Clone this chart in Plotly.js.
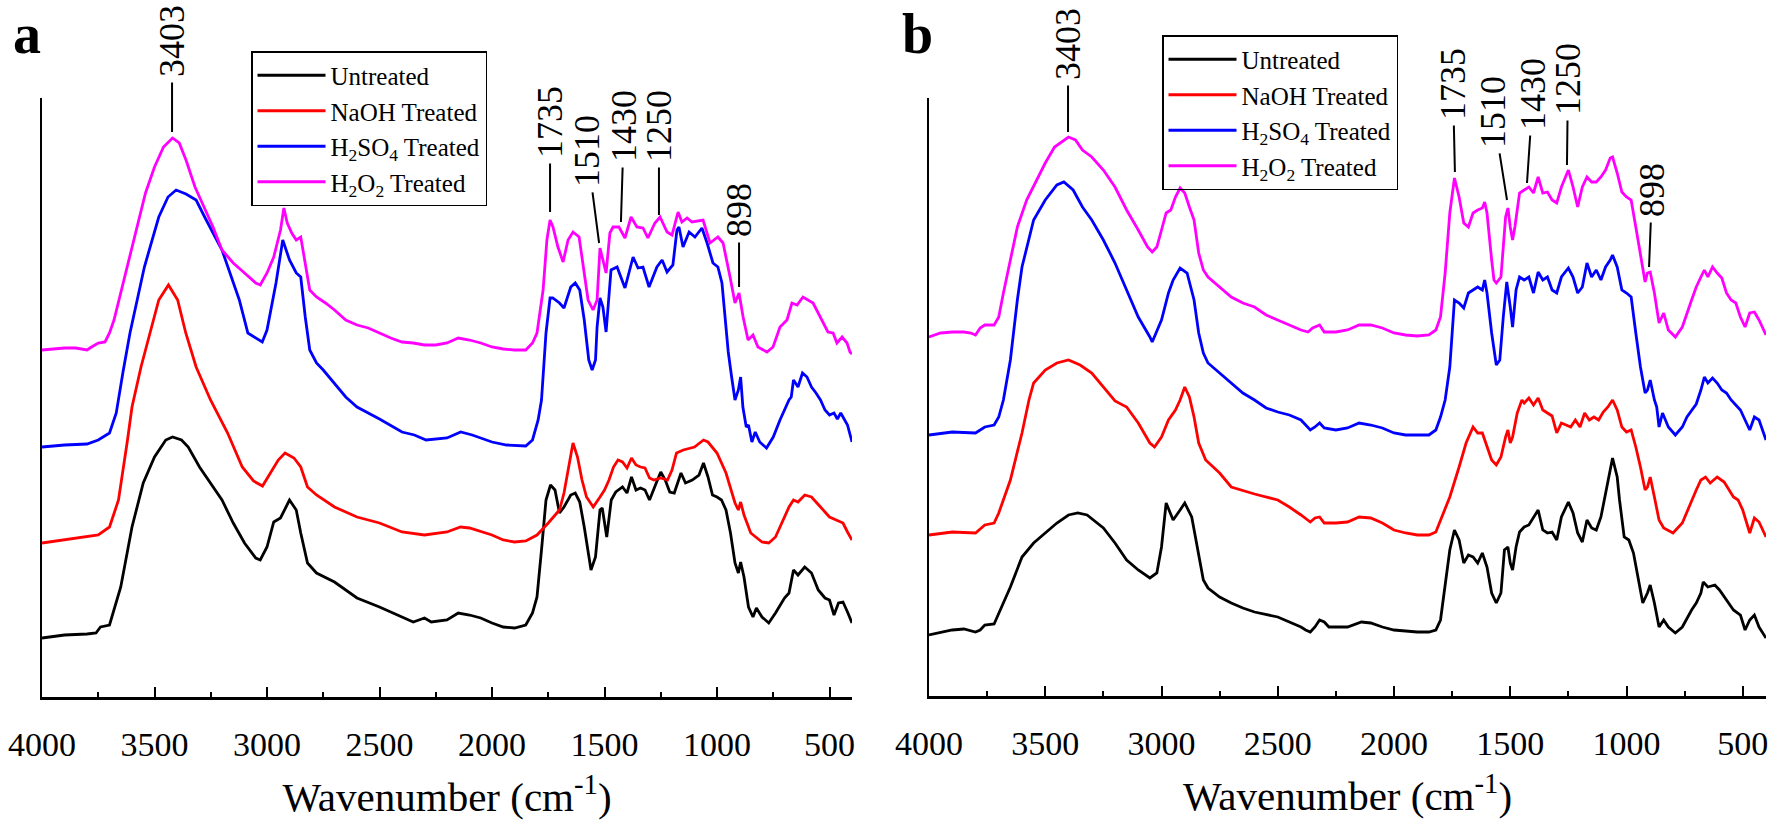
<!DOCTYPE html>
<html>
<head>
<meta charset="utf-8">
<script src="https://cdn.plot.ly/plotly-3.0.1.min.js"></script>
<style>
html,body{margin:0;padding:0;background:#ffffff;}
#chart{width:1776px;height:820px;}
</style>
</head>
<body>
<div id="chart"></div>
<script>
// ---------- DATA (wavenumber cm^-1, transmittance offset in arbitrary units) ----------
const seriesNames = ['Untreated', 'NaOH Treated', 'H<sub>2</sub>SO<sub>4</sub> Treated', 'H<sub>2</sub>O<sub>2</sub> Treated'];
const peakLabels = ['3403', '1735', '1510', '1430', '1250', '898'];

// Panel a
const a_untreated = [[4000,59],[3900,62],[3800,63],[3760,64],[3740,70],[3700,72],[3650,110],[3600,170],[3550,214],[3500,240],[3450,257],[3420,260],[3380,257],[3350,250],[3300,230],[3250,214],[3200,197],[3150,174],[3100,154],[3050,139],[3030,137],[3000,150],[2970,175],[2940,179],[2900,197],[2870,187],[2850,164],[2820,134],[2780,124],[2700,115],[2600,99],[2500,90],[2400,80],[2350,75],[2300,79],[2270,75],[2200,77],[2150,84],[2100,82],[2050,79],[2000,74],[1950,70],[1900,69],[1850,72],[1820,84],[1800,100],[1780,147],[1760,197],[1740,212],[1720,207],[1700,184],[1680,190],[1650,202],[1630,204],[1610,195],[1590,170],[1560,127],[1540,140],[1520,187],[1510,189],[1490,160],[1470,197],[1450,205],[1420,210],[1400,204],[1380,220],[1360,207],[1340,209],[1320,207],[1300,197],[1270,214],[1250,225],[1230,217],[1210,205],[1190,204],[1160,224],[1140,214],[1110,217],[1080,222],[1060,234],[1040,220],[1020,202],[1000,200],[980,197],[960,187],[940,164],[920,134],[905,124],[895,135],[880,120],[860,90],[840,80],[825,89],[800,80],[770,74],[740,84],[700,99],[680,104],[660,127],[640,122],[610,130],[580,124],[550,107],[520,99],[500,97],[480,82],[460,94],[440,95],[420,85],[400,74]];
const a_naoh = [[4000,154],[3900,157],[3800,160],[3750,162],[3700,170],[3660,197],[3620,257],[3600,290],[3560,330],[3520,364],[3481,397],[3438,412],[3397,397],[3361,364],[3315,330],[3251,297],[3175,264],[3110,230],[3060,216],[3020,211],[2990,222],[2950,237],[2920,244],[2880,239],[2850,230],[2820,210],[2780,202],[2700,190],[2600,180],[2500,174],[2400,165],[2300,162],[2200,165],[2140,170],[2100,169],[2000,162],[1950,157],[1900,155],[1850,156],[1800,162],[1750,174],[1700,187],[1680,204],[1660,230],[1640,254],[1620,240],[1600,217],[1580,200],[1550,190],[1520,200],[1500,207],[1480,217],[1460,230],[1440,237],[1420,235],[1400,229],[1380,239],[1360,232],[1340,230],[1320,229],[1300,219],[1280,217],[1250,219],[1220,217],[1200,227],[1180,244],[1150,247],[1100,250],[1060,257],[1040,255],[1000,244],[960,224],[940,210],[920,194],[905,187],[895,195],[880,182],[850,164],[800,155],[770,154],[740,160],[700,180],[680,190],[660,197],[640,195],[610,202],[580,200],[540,190],[500,180],[470,177],[440,174],[420,165],[400,157]];
const a_h2so4 = [[4000,250],[3900,252],[3800,253],[3750,257],[3700,264],[3670,284],[3640,325],[3609,364],[3545,430],[3481,480],[3440,500],[3404,507],[3360,503],[3315,497],[3277,480],[3200,447],[3123,397],[3085,364],[3021,355],[3000,367],[2960,414],[2930,457],[2900,437],[2870,424],[2850,420],[2830,380],[2810,347],[2780,334],[2750,327],[2700,314],[2650,300],[2600,290],[2550,284],[2500,278],[2400,265],[2345,262],[2293,257],[2200,259],[2139,265],[2088,262],[2000,255],[1935,252],[1850,251],[1820,257],[1795,277],[1780,297],[1760,364],[1742,399],[1730,399],[1700,394],[1680,389],[1650,410],[1630,414],[1610,407],[1590,377],[1570,337],[1555,327],[1540,337],[1533,370],[1520,399],[1507,390],[1493,365],[1471,427],[1444,430],[1409,409],[1373,440],[1351,429],[1329,430],[1302,410],[1267,430],[1244,437],[1222,425],[1196,432],[1178,467],[1169,470],[1151,450],[1124,465],[1098,460],[1067,469],[1044,454],[1018,434],[996,430],[978,414],[964,380],[950,345],[935,320],[920,297],[905,307],[895,320],[885,290],[870,270],[860,272],[845,255],[830,265],[810,255],[780,249],[750,260],[720,277],[700,287],[680,297],[670,300],[660,317],[640,310],[620,324],[600,320],[580,310],[560,304],[540,297],[520,287],[500,282],[480,284],[465,278],[450,284],[420,272],[400,255]];
const a_h2o2 = [[4000,347],[3900,349],[3850,349],[3800,347],[3780,350],[3750,354],[3720,355],[3700,364],[3680,377],[3650,404],[3620,434],[3580,470],[3540,504],[3500,530],[3460,550],[3420,559],[3390,554],[3360,537],[3320,510],[3280,490],[3240,470],[3200,447],[3150,434],[3100,424],[3050,414],[3030,412],[3000,424],[2970,440],[2940,467],[2925,489],[2910,474],[2890,464],[2870,457],[2850,460],[2830,434],[2810,407],[2780,400],[2740,394],[2700,387],[2650,377],[2600,372],[2550,369],[2500,364],[2450,359],[2400,355],[2350,354],[2300,352],[2250,352],[2200,354],[2150,359],[2100,357],[2050,354],[2000,350],[1950,348],[1900,347],[1850,347],[1820,354],[1800,364],[1773,407],[1756,457],[1742,477],[1729,470],[1707,450],[1684,435],[1662,457],[1640,465],[1613,460],[1596,434],[1573,397],[1551,387],[1533,397],[1520,449],[1507,437],[1493,424],[1476,464],[1462,470],[1436,470],[1409,459],[1382,480],[1356,470],[1329,469],[1307,459],[1276,474],[1253,480],[1222,465],[1200,462],[1173,485],[1156,475],[1133,479],[1111,475],[1062,477],[1044,464],[1031,454],[996,460],[973,454],[942,420],[920,394],[902,404],[884,380],[862,357],[840,362],[818,350],[778,345],[751,350],[720,370],[689,377],[667,394],[644,392],[618,400],[573,394],[542,380],[507,365],[484,364],[467,354],[444,360],[422,354],[409,345],[400,343]];

// Panel b
const b_untreated = [[4000,61],[3900,66],[3850,67],[3800,64],[3780,66],[3760,71],[3720,72],[3700,83],[3650,109],[3600,139],[3550,153],[3500,163],[3450,173],[3400,181],[3360,183],[3320,181],[3280,174],[3250,168],[3200,153],[3150,136],[3100,126],[3050,118],[3020,123],[3000,149],[2980,193],[2950,176],[2920,186],[2900,193],[2870,179],[2850,153],[2820,116],[2800,108],[2750,99],[2700,93],[2650,88],[2600,84],[2500,79],[2450,74],[2400,69],[2380,66],[2360,64],[2340,69],[2320,76],[2300,74],[2280,69],[2200,69],[2140,74],[2100,73],[2050,69],[2000,66],[1900,64],[1850,64],[1820,66],[1800,76],[1780,109],[1760,146],[1740,166],[1720,156],[1700,133],[1680,141],[1660,139],[1640,133],[1620,143],[1600,129],[1580,103],[1560,93],[1540,103],[1525,146],[1510,149],[1500,133],[1490,126],[1475,149],[1460,164],[1440,169],[1420,171],[1400,179],[1380,186],[1360,166],[1340,163],[1320,164],[1300,156],[1280,179],[1250,194],[1230,183],[1210,163],[1190,154],[1170,176],[1150,168],[1130,166],[1110,179],[1090,203],[1070,229],[1060,238],[1040,219],[1030,196],[1010,159],[990,156],[970,143],[950,116],[930,93],[910,103],[898,111],[880,93],[860,69],[840,76],[820,69],[790,63],[760,69],[720,86],[700,93],[680,103],[670,114],[650,109],[620,111],[600,106],[570,96],[540,86],[510,81],[490,66],[470,76],[450,81],[430,69],[400,58]];
const b_naoh = [[4000,161],[3900,164],[3800,163],[3760,171],[3720,173],[3700,183],[3650,216],[3600,263],[3570,296],[3550,313],[3500,326],[3450,333],[3400,336],[3350,331],[3300,323],[3250,309],[3200,295],[3150,289],[3100,273],[3050,253],[3030,249],[3000,259],[2970,276],[2940,286],[2920,296],[2900,309],[2880,299],[2860,279],[2840,253],[2810,236],[2780,229],[2750,223],[2700,209],[2600,202],[2500,196],[2450,189],[2400,181],[2360,174],[2340,178],[2320,179],[2300,173],[2250,173],[2200,174],[2150,179],[2100,178],[2050,173],[2000,166],[1950,163],[1900,161],[1850,161],[1820,164],[1800,176],[1760,199],[1720,229],[1690,253],[1660,269],[1640,263],[1620,263],[1600,249],[1580,236],[1560,231],[1540,239],[1520,259],[1510,266],[1500,253],[1490,259],[1470,283],[1450,296],[1440,293],[1420,298],[1400,291],[1380,298],[1360,286],[1340,283],[1320,280],[1300,263],[1280,273],[1260,271],[1240,269],[1220,276],[1200,269],[1180,283],[1160,276],[1140,279],[1120,276],[1100,284],[1080,289],[1060,296],[1040,286],[1020,269],[1000,264],[980,266],[960,249],[940,229],[920,206],[910,209],[898,219],[880,199],[860,176],[840,168],[800,163],[760,173],[720,196],[700,206],[680,216],[660,219],[640,213],[610,219],[580,214],[540,199],[520,196],[500,186],[470,163],[450,178],[430,174],[400,159]];
const b_h2so4 = [[4000,261],[3900,264],[3800,263],[3760,269],[3720,271],[3700,279],[3680,296],[3650,336],[3620,396],[3600,429],[3550,476],[3500,496],[3450,511],[3420,514],[3380,506],[3340,489],[3300,476],[3250,456],[3200,433],[3150,406],[3100,379],[3050,359],[3040,354],[3000,376],[2970,403],[2950,416],[2920,428],[2890,423],[2860,396],[2840,363],[2820,343],[2800,333],[2750,323],[2700,313],[2650,303],[2600,296],[2550,288],[2500,284],[2450,281],[2400,276],[2360,266],[2340,269],[2320,273],[2300,268],[2250,266],[2200,268],[2150,273],[2100,271],[2050,268],[2000,263],[1950,261],[1900,261],[1850,261],[1820,266],[1800,279],[1780,296],[1760,329],[1740,396],[1720,393],[1700,388],[1680,403],[1660,406],[1640,409],[1620,406],[1610,416],[1600,403],[1580,363],[1560,331],[1545,336],[1530,379],[1515,414],[1500,389],[1490,369],[1475,406],[1460,419],[1440,416],[1420,419],[1400,403],[1380,424],[1360,416],[1340,419],[1320,406],[1300,403],[1280,419],[1250,428],[1230,419],[1210,403],[1190,409],[1170,433],[1150,419],[1130,426],[1110,416],[1090,429],[1070,436],[1060,441],[1040,429],[1020,406],[1000,403],[980,399],[960,363],[940,329],[920,303],[910,306],[898,316],[880,296],[870,289],[860,269],[845,283],[820,269],[790,261],[760,269],[740,279],[720,286],[700,292],[680,306],[665,319],[650,313],[630,318],[610,313],[590,306],[570,303],[550,296],[530,291],[510,286],[490,276],[470,266],[450,279],[430,276],[400,256]];
const b_h2o2 = [[4000,359],[3950,363],[3900,364],[3850,364],[3820,363],[3800,361],[3780,368],[3760,371],[3720,371],[3700,379],[3680,403],[3650,436],[3620,469],[3580,496],[3540,514],[3500,533],[3460,549],[3420,556],[3400,559],[3370,556],[3340,546],[3300,539],[3250,526],[3200,509],[3150,486],[3100,466],[3060,449],[3040,444],[3020,449],[3000,466],[2980,483],[2960,486],[2940,499],[2920,508],[2900,503],[2880,489],[2860,476],[2840,443],[2820,426],[2800,419],[2750,409],[2700,399],[2650,393],[2600,389],[2550,381],[2500,376],[2450,371],[2400,366],[2370,364],[2350,368],[2320,371],[2300,364],[2250,364],[2200,366],[2150,371],[2100,371],[2050,368],[2000,363],[1950,361],[1900,360],[1850,361],[1820,366],[1800,379],[1780,423],[1760,483],[1740,518],[1720,499],[1700,473],[1680,469],[1660,483],[1640,486],[1620,488],[1610,494],[1600,483],[1580,436],[1570,416],[1560,413],[1540,419],[1520,479],[1510,488],[1500,469],[1490,456],[1480,469],[1460,503],[1440,506],[1420,509],[1400,503],[1380,519],[1360,503],[1340,504],[1320,496],[1300,493],[1280,509],[1250,526],[1230,509],[1210,489],[1190,509],[1170,519],[1150,514],[1130,514],[1110,519],[1090,526],[1070,538],[1060,539],[1040,523],[1020,504],[1000,499],[980,496],[960,469],[940,443],[920,414],[910,423],[898,424],[880,403],[860,373],[840,383],[820,366],[790,359],[760,369],[720,396],[700,409],[680,419],[665,426],[650,419],[630,429],[610,423],[590,418],[570,403],[550,396],[530,393],[510,379],[490,369],[470,383],[450,384],[430,376],[400,361]];

// ---------- BUILD ----------
const FONT = 'Liberation Serif, Times New Roman, serif';
const colors = ['#000000', '#ff0000', '#0000ff', '#ff00ff'];
const panelA = [a_untreated, a_naoh, a_h2so4, a_h2o2];
const panelB = [b_untreated, b_naoh, b_h2so4, b_h2o2];

const traces = [];
panelA.forEach((s, i) => traces.push({
  type: 'scatter', mode: 'lines', name: seriesNames[i],
  x: s.map(p => p[0]), y: s.map(p => p[1]),
  xaxis: 'x', yaxis: 'y', legend: 'legend',
  line: {color: colors[i], width: 2.8}
}));
panelB.forEach((s, i) => traces.push({
  type: 'scatter', mode: 'lines', name: seriesNames[i],
  x: s.map(p => p[0]), y: s.map(p => p[1]),
  xaxis: 'x2', yaxis: 'y2', legend: 'legend2',
  line: {color: colors[i], width: 2.8}
}));

function xAxis(domain, anchor) {
  return {
    domain: domain, anchor: anchor, range: [4000, 400],
    showline: true, linecolor: '#000', linewidth: 2.5,
    ticks: 'inside', ticklen: 10, tickwidth: 2, tickcolor: '#000',
    dtick: 500, tick0: 0,
    minor: {ticks: 'inside', ticklen: 5, tickwidth: 2, tickcolor: '#000', dtick: 250, tick0: 0, showgrid: false},
    ticklabelstandoff: 16,
    tickfont: {family: FONT, size: 34, color: '#000'},
    showgrid: false, zeroline: false, fixedrange: true,
    title: {text: 'Wavenumber (cm<sup>-1</sup>)', font: {family: FONT, size: 41, color: '#000'}, standoff: 20}
  };
}
function yAxis(domain, anchor, top) {
  return {
    domain: domain, anchor: anchor, range: [0, top],
    showline: true, linecolor: '#000', linewidth: 2.5,
    ticks: '', showticklabels: false, showgrid: false, zeroline: false, fixedrange: true
  };
}

function peakAnn(xref, yref, x, y, ax, ay, text) {
  return {
    xref: xref, yref: yref, x: x, y: y, ax: ax, ay: ay,
    text: text, textangle: -90, showarrow: true, arrowhead: 0,
    arrowwidth: 2, arrowcolor: '#000', standoff: 0, startstandoff: 4,
    font: {family: FONT, size: 36, color: '#000'}
  };
}

const annA = [[3422,565,0,-91],[1742,485,0,-90],[1524,454,-12,-92],[1427,475,3,-96],[1258,482,0,-89],[902,410,0,-77]];
const annB = [[3402,564,0,-88],[1738,524,-2,-88],[1514,496,-14,-88],[1428,513,6,-89],[1256,531,1,-86],[903,429,3,-77]];

const annotations = [];
annA.forEach((a, i) => annotations.push(peakAnn('x', 'y', a[0], a[1], a[2], a[3], peakLabels[i])));
annB.forEach((a, i) => annotations.push(peakAnn('x2', 'y2', a[0], a[1], a[2], a[3], peakLabels[i])));
annotations.push({xref: 'paper', yref: 'paper', x: 27/1776, y: 1 - 33.5/820, xanchor: 'center', yanchor: 'middle',
  text: '<b>a</b>', showarrow: false, borderpad: 0, font: {family: FONT, size: 56, color: '#000'}});
annotations.push({xref: 'paper', yref: 'paper', x: 917/1776, y: 1 - 33.5/820, xanchor: 'center', yanchor: 'middle',
  text: '<b>b</b>', showarrow: false, borderpad: 0, font: {family: FONT, size: 56, color: '#000'}});

const legendStyle = {
  bgcolor: 'rgba(255,255,255,0)', bordercolor: '#000', borderwidth: 1.5,
  font: {family: FONT, size: 25, color: '#000'}, itemwidth: 68,
  xanchor: 'left', yanchor: 'top', traceorder: 'normal'
};

const layout = {
  width: 1776, height: 820,
  margin: {l: 0, r: 0, t: 0, b: 0},
  paper_bgcolor: '#ffffff', plot_bgcolor: '#ffffff',
  showlegend: true,
  xaxis: xAxis([42/1776, 852/1776], 'y'),
  yaxis: yAxis([(820-697)/820, (820-98)/820], 'x', 599),
  xaxis2: xAxis([929/1776, 1766/1776], 'y2'),
  yaxis2: yAxis([(820-696)/820, (820-98)/820], 'x2', 598),
  legend: Object.assign({x: 251/1776, y: 1 - 51/820}, legendStyle),
  legend2: Object.assign({x: 1162/1776, y: 1 - 35/820}, legendStyle),
  annotations: annotations
};

Plotly.newPlot('chart', traces, layout, {staticPlot: true, displayModeBar: false});
</script>
</body>
</html>
